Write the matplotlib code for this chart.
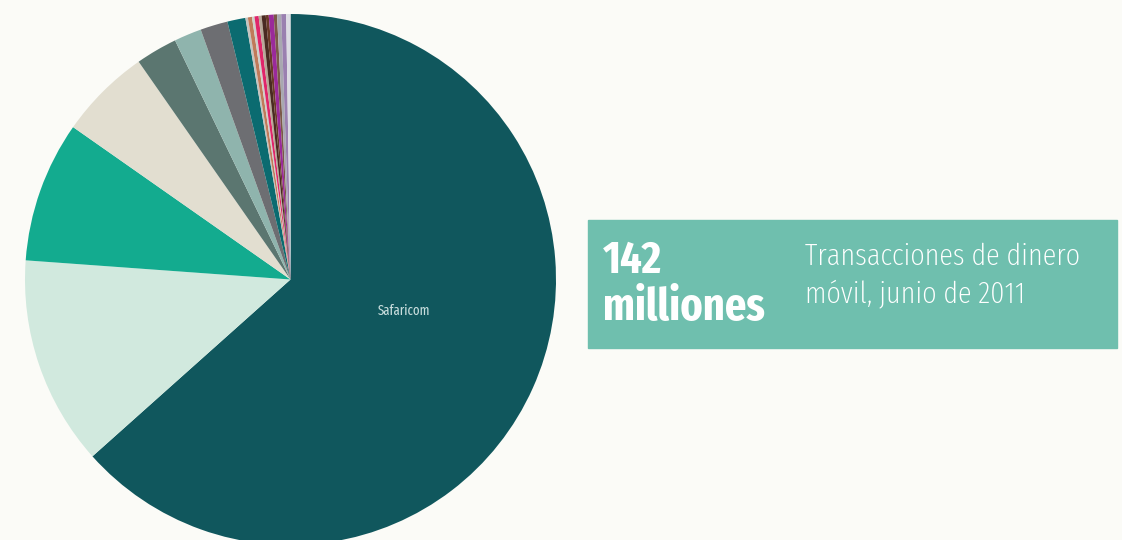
import matplotlib
matplotlib.use("Agg")
import matplotlib.pyplot as plt
from matplotlib.patches import Rectangle

# cuota de transacciones por operador (%), en sentido horario desde las 12
operadores = ["Safaricom"] + [""] * 19
cuotas = [63.4, 12.75, 8.58, 5.58, 2.53, 1.67, 1.67, 1.10,
          0.15, 0.25, 0.15, 0.25, 0.18, 0.25, 0.18, 0.30, 0.20, 0.25, 0.30, 0.26]
colores = ["#10575d", "#d1e9de", "#13ab8f", "#e2ded0", "#5b7670", "#8fb4ad",
           "#6d6e72", "#0b6b70", "#c4c4c0", "#c07a5a", "#cfcfca", "#e0256a",
           "#b8a898", "#4a2a22", "#6a3a28", "#9a2a9a", "#7a5848", "#a8a8b0",
           "#9a80b0", "#dcdce4"]

cifra = ["142", "milliones"]
descripcion = ["Transacciones de dinero", "móvil, junio de 2011"]

fondo = "#fbfbf7"
fuente = "Fira Sans Extra Condensed"
W, H = 1122, 540
fig = plt.figure(figsize=(W / 100, H / 100), dpi=100, facecolor=fondo)

ax = fig.add_axes([25 / W, -5 / H, 531 / W, 531 / H])
ax.set_facecolor(fondo)
ax.pie(cuotas, colors=colores, startangle=90, counterclock=False, radius=1,
       wedgeprops=dict(linewidth=0))
ax.set_xlim(-1, 1)
ax.set_ylim(-1, 1)
ax.axis("off")
ax.text(0.426, -0.117, operadores[0], ha="center", va="center",
        color="#c9dede", fontsize=10, family=fuente)

# recuadro con el total
fig.patches.append(Rectangle((588 / W, (H - 348) / H), 529 / W, 128 / H,
                             transform=fig.transFigure, color="#6fbfae", zorder=0))
for linea, y in zip(cifra, [273, 320]):
    fig.text(603 / W, (H - y) / H, linea, color="white", fontsize=33,
             fontweight=700, family=fuente, va="baseline")
for linea, y in zip(descripcion, [265, 302]):
    fig.text(805 / W, (H - y) / H, linea, color="white", fontsize=22,
             fontweight=275, family=fuente, va="baseline")

fig.savefig("out.png", dpi=100, facecolor=fondo)
